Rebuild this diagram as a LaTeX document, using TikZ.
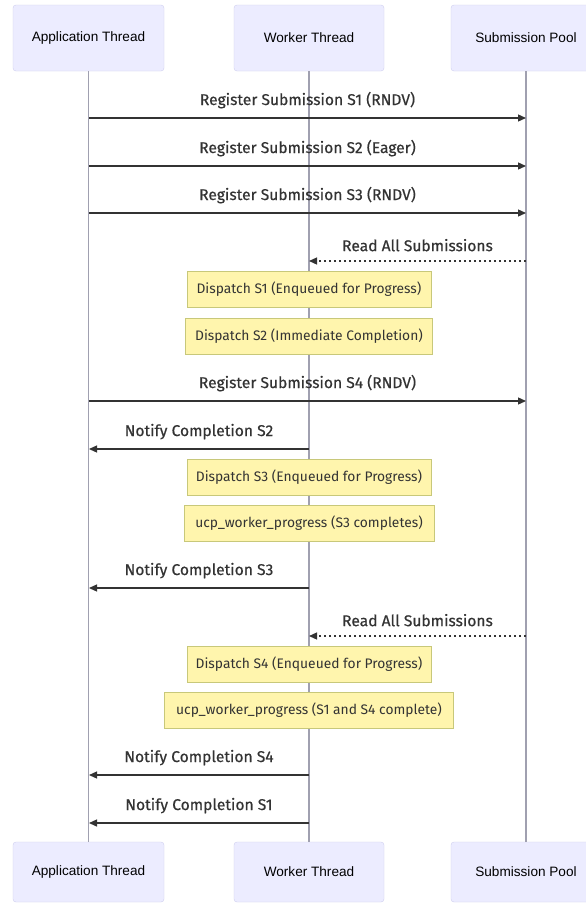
\documentclass[tikz,border=0pt]{standalone}
\usepackage{fontspec}
\setmainfont{Liberation Sans}
\newfontfamily\msgfont[FakeBold=0.5]{Fira Sans}
\newfontfamily\notefont{Fira Sans}
\usetikzlibrary{arrows.meta,positioning,calc}
\definecolor{actfill}{HTML}{ECECFF}
\definecolor{actline}{HTML}{CFCFEF}
\definecolor{lifeln}{HTML}{A0A0B0}
\definecolor{notefill}{HTML}{FFF5AD}
\definecolor{noteline}{HTML}{C8C87A}
\definecolor{ink}{HTML}{333333}
\tikzset{
  actor/.style={draw=actline, fill=actfill, rounded corners=3pt, align=center,
                minimum width=151pt, minimum height=66pt, inner sep=0pt,
                font=\fontsize{13.6}{15}\selectfont, text=black},
  note/.style={draw=noteline, fill=notefill, align=center, inner sep=0pt,
               minimum height=36pt, font=\notefont\fontsize{13.8}{15}\selectfont, text=ink},
  life/.style={lifeln, line width=1.2pt},
  msg/.style={-{Triangle[length=8pt,width=7pt]}, ink, line width=1.3pt},
  reply/.style={msg, dash pattern=on 2.5pt off 2.5pt},
  lbl/.style={font=\msgfont\fontsize{15.6}{17}\selectfont, text=ink, inner sep=0pt},
}
\begin{document}
\begin{tikzpicture}[x=1pt, y=-1pt]
        \useasboundingbox (0,0) rectangle (586,903);
        \fill[white] (0,0) rectangle (586,903);
        % participants, top and bottom
        \node[actor] (app) at (88.5,38) {Application Thread};
        \node[actor, minimum width=150pt] (wrk) at (309,38) {Worker Thread};
        \node[actor, minimum width=150pt] (pool) at (526,38) {Submission Pool};
        \node[actor, minimum height=60pt] (appB) at (88.5,872) {Application Thread};
        \node[actor, minimum width=150pt, minimum height=60pt] (wrkB) at (309,872) {Worker Thread};
        \node[actor, minimum width=150pt, minimum height=60pt] (poolB) at (526,872) {Submission Pool};
        \draw[life] (app) -- (appB); \draw[life] (wrk) -- (wrkB); \draw[life] (pool) -- (poolB);
        % message end points on the lifelines
        \foreach \n/\y in {1/118,2/166,3/213,4/261,5/401,6/449,7/588,8/636,9/775,10/823} {
          \coordinate (a\n) at (89,\y);
          \coordinate (w\n) at (309,\y);
          \coordinate (p\n) at (526,\y);
        }
        \draw[msg] (a1) -- node[lbl, above=9pt] {Register Submission S1 (RNDV)} (p1);
        \draw[msg] (a2) -- node[lbl, above=9pt] {Register Submission S2 (Eager)} (p2);
        \draw[msg] (a3) -- node[lbl, above=9pt] {Register Submission S3 (RNDV)} (p3);
        \draw[reply] (p4) -- node[lbl, above=9pt] {Read All Submissions} (w4);
        \node[note, minimum width=244pt] (n1) at (309,289) {Dispatch S1 (Enqueued for Progress)};
        \node[note, minimum width=247pt] (n2) at (309,336) {Dispatch S2 (Immediate Completion)};
        \draw[msg] (a5) -- node[lbl, above=9pt] {Register Submission S4 (RNDV)} (p5);
        \draw[msg] (w6) -- node[lbl, above=9pt] {Notify Completion S2} (a6);
        \node[note, minimum width=244pt] (n3) at (309,477) {Dispatch S3 (Enqueued for Progress)};
        \node[note, minimum width=250pt] (n4) at (309,523.5) {ucp\_worker\_progress (S3 completes)};
        \draw[msg] (w7) -- node[lbl, above=9pt] {Notify Completion S3} (a7);
        \draw[reply] (p8) -- node[lbl, above=9pt] {Read All Submissions} (w8);
        \node[note, minimum width=244pt] (n5) at (309,664) {Dispatch S4 (Enqueued for Progress)};
        \node[note, minimum width=289pt] (n6) at (309,710) {ucp\_worker\_progress (S1 and S4 complete)};
        \draw[msg] (w9) -- node[lbl, above=9pt] {Notify Completion S4} (a9);
        \draw[msg] (w10) -- node[lbl, above=9pt] {Notify Completion S1} (a10);
      \end{tikzpicture}
\end{document}
